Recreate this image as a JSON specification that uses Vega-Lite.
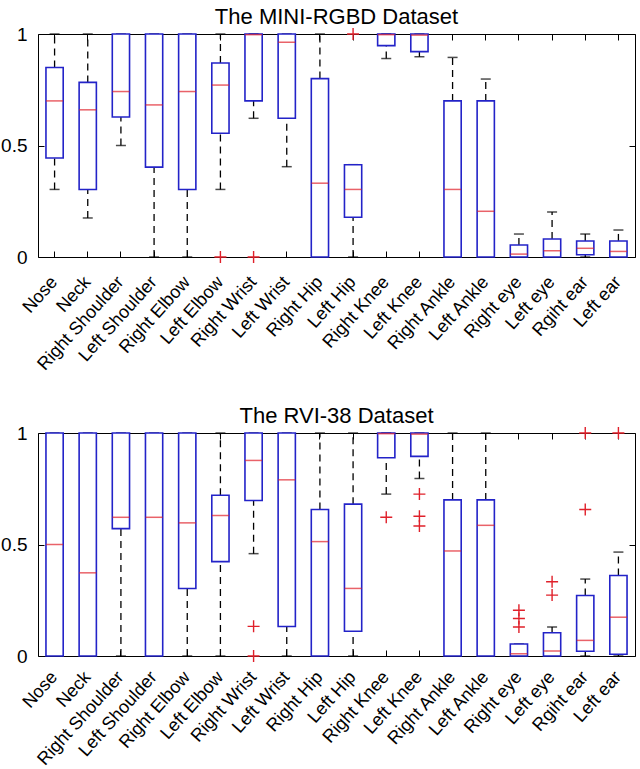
{
  "$schema": "https://vega.github.io/schema/vega-lite/v6.json",
  "background": "white",
  "padding": {"left": 0, "top": 5, "right": 4, "bottom": 0},
  "spacing": 29,
  "config": {
    "font": "Liberation Sans",
    "view": {"stroke": "black", "strokeWidth": 1},
    "title": {"fontSize": 22, "fontWeight": "normal", "color": "black", "font": "Liberation Sans", "offset": -4},
    "axis": {"grid": false, "domain": false, "tickColor": "black", "labelColor": "black", "labelFont": "Liberation Sans"}
  },
  "datasets": {
    "mini": [
      {"joint": "Nose", "lo": 0.303, "q1": 0.444, "med": 0.70, "q3": 0.85, "hi": 1},
      {"joint": "Neck", "lo": 0.175, "q1": 0.303, "med": 0.66, "q3": 0.783, "hi": 1},
      {"joint": "Right Shoulder", "lo": 0.50, "q1": 0.628, "med": 0.742, "q3": 1, "hi": 1},
      {"joint": "Left Shoulder", "lo": 0, "q1": 0.403, "med": 0.682, "q3": 1, "hi": 1},
      {"joint": "Right Elbow", "lo": 0, "q1": 0.303, "med": 0.742, "q3": 1, "hi": 1},
      {"joint": "Left Elbow", "lo": 0.303, "q1": 0.555, "med": 0.771, "q3": 0.87, "hi": 1},
      {"joint": "Right Wrist", "lo": 0.622, "q1": 0.70, "med": 0.997, "q3": 1, "hi": 1},
      {"joint": "Left Wrist", "lo": 0.405, "q1": 0.622, "med": 0.963, "q3": 1, "hi": 1},
      {"joint": "Right Hip", "lo": 0, "q1": 0, "med": 0.331, "q3": 0.80, "hi": 1},
      {"joint": "Left Hip", "lo": 0, "q1": 0.178, "med": 0.303, "q3": 0.414, "hi": 0.414},
      {"joint": "Right Knee", "lo": 0.89, "q1": 0.948, "med": 0.997, "q3": 1, "hi": 1},
      {"joint": "Left Knee", "lo": 0.898, "q1": 0.921, "med": 0.995, "q3": 1, "hi": 1},
      {"joint": "Right Ankle", "lo": 0, "q1": 0, "med": 0.303, "q3": 0.70, "hi": 0.895},
      {"joint": "Left Ankle", "lo": 0, "q1": 0, "med": 0.205, "q3": 0.70, "hi": 0.798},
      {"joint": "Right eye", "lo": 0, "q1": 0, "med": 0.013, "q3": 0.054, "hi": 0.103},
      {"joint": "Left eye", "lo": 0, "q1": 0, "med": 0.028, "q3": 0.081, "hi": 0.202},
      {"joint": "Rgiht ear", "lo": 0, "q1": 0.01, "med": 0.039, "q3": 0.072, "hi": 0.103},
      {"joint": "Left ear", "lo": 0, "q1": 0, "med": 0.025, "q3": 0.072, "hi": 0.121}
    ],
    "mini_out": [
      {"joint": "Left Elbow", "v": 0},
      {"joint": "Right Wrist", "v": 0},
      {"joint": "Left Hip", "v": 1}
    ],
    "rvi": [
      {"joint": "Nose", "lo": 0, "q1": 0, "med": 0.50, "q3": 1, "hi": 1},
      {"joint": "Neck", "lo": 0, "q1": 0, "med": 0.373, "q3": 1, "hi": 1},
      {"joint": "Right Shoulder", "lo": 0, "q1": 0.571, "med": 0.622, "q3": 1, "hi": 1},
      {"joint": "Left Shoulder", "lo": 0, "q1": 0, "med": 0.622, "q3": 1, "hi": 1},
      {"joint": "Right Elbow", "lo": 0, "q1": 0.303, "med": 0.597, "q3": 1, "hi": 1},
      {"joint": "Left Elbow", "lo": 0, "q1": 0.423, "med": 0.63, "q3": 0.721, "hi": 1},
      {"joint": "Right Wrist", "lo": 0.459, "q1": 0.697, "med": 0.877, "q3": 1, "hi": 1},
      {"joint": "Left Wrist", "lo": 0, "q1": 0.132, "med": 0.79, "q3": 1, "hi": 1},
      {"joint": "Right Hip", "lo": 0, "q1": 0, "med": 0.513, "q3": 0.657, "hi": 1},
      {"joint": "Left Hip", "lo": 0, "q1": 0.111, "med": 0.303, "q3": 0.681, "hi": 1},
      {"joint": "Right Knee", "lo": 0.726, "q1": 0.889, "med": 0.997, "q3": 1, "hi": 1},
      {"joint": "Left Knee", "lo": 0.796, "q1": 0.895, "med": 0.995, "q3": 1, "hi": 1},
      {"joint": "Right Ankle", "lo": 0, "q1": 0, "med": 0.471, "q3": 0.70, "hi": 1},
      {"joint": "Left Ankle", "lo": 0, "q1": 0, "med": 0.586, "q3": 0.70, "hi": 1},
      {"joint": "Right eye", "lo": 0, "q1": 0, "med": 0.01, "q3": 0.054, "hi": 0.054},
      {"joint": "Left eye", "lo": 0, "q1": 0, "med": 0.022, "q3": 0.104, "hi": 0.13},
      {"joint": "Rgiht ear", "lo": 0, "q1": 0.021, "med": 0.07, "q3": 0.271, "hi": 0.345},
      {"joint": "Left ear", "lo": 0, "q1": 0.008, "med": 0.174, "q3": 0.361, "hi": 0.466}
    ],
    "rvi_out": [
      {"joint": "Right Wrist", "v": 0.133},
      {"joint": "Right Wrist", "v": 0},
      {"joint": "Right Knee", "v": 0.622},
      {"joint": "Left Knee", "v": 0.726},
      {"joint": "Left Knee", "v": 0.627},
      {"joint": "Left Knee", "v": 0.583},
      {"joint": "Right eye", "v": 0.205},
      {"joint": "Right eye", "v": 0.168},
      {"joint": "Right eye", "v": 0.13},
      {"joint": "Left eye", "v": 0.333},
      {"joint": "Left eye", "v": 0.273},
      {"joint": "Rgiht ear", "v": 1},
      {"joint": "Rgiht ear", "v": 0.657},
      {"joint": "Left ear", "v": 1}
    ]
  },
  "vconcat": [
    {
      "title": {"text": "The MINI-RGBD Dataset"},
      "width": 597,
      "height": 223,
      "data": {"name": "mini"},
      "resolve": {"axis": {"x": "independent", "y": "independent"}},
      "layer": [
        {
          "mark": {"type": "rule", "color": "black", "strokeDash": [7, 5], "strokeWidth": 1.3},
          "encoding": {
            "x": {"field": "joint", "type": "nominal", "sort": null, "title": null,
                  "scale": {"paddingInner": 0, "paddingOuter": 0},
                  "axis": {"orient": "bottom", "labelAngle": -48, "labelFontSize": 18, "tickSize": -6, "labelPadding": 28}},
            "y": {"field": "q3", "type": "quantitative", "title": null,
                  "scale": {"domain": [0, 1], "nice": false},
                  "axis": {"orient": "left", "values": [0, 0.5, 1], "format": "~g", "labelFontSize": 19, "tickSize": -6, "labelPadding": 17}},
            "y2": {"field": "hi"}
          }
        },
        {
          "mark": {"type": "rule", "color": "black", "strokeDash": [7, 5], "strokeWidth": 1.3},
          "encoding": {
            "x": {"field": "joint", "type": "nominal", "sort": null, "axis": {"orient": "top", "labels": false, "tickSize": -6, "title": null}},
            "y": {"field": "lo", "type": "quantitative", "axis": {"orient": "right", "labels": false, "values": [0, 0.5, 1], "tickSize": -6, "title": null}},
            "y2": {"field": "q1"}
          }
        },
        {
          "mark": {"type": "tick", "color": "black", "size": 10, "thickness": 1.5},
          "encoding": {
            "x": {"field": "joint", "type": "nominal", "sort": null, "axis": null},
            "y": {"field": "hi", "type": "quantitative", "axis": null}
          }
        },
        {
          "mark": {"type": "tick", "color": "black", "size": 10, "thickness": 1.5},
          "encoding": {
            "x": {"field": "joint", "type": "nominal", "sort": null, "axis": null},
            "y": {"field": "lo", "type": "quantitative", "axis": null}
          }
        },
        {
          "mark": {"type": "bar", "fill": "white", "stroke": "#2323c8", "strokeWidth": 1.6, "width": {"band": 0.52}},
          "encoding": {
            "x": {"field": "joint", "type": "nominal", "sort": null, "axis": null},
            "y": {"field": "q3", "type": "quantitative", "axis": null},
            "y2": {"field": "q1"}
          }
        },
        {
          "mark": {"type": "tick", "color": "#e0202a", "size": 17, "thickness": 1.5},
          "encoding": {
            "x": {"field": "joint", "type": "nominal", "sort": null, "axis": null},
            "y": {"field": "med", "type": "quantitative", "axis": null}
          }
        },
        {
          "data": {"name": "mini_out"},
          "mark": {"type": "point", "shape": "M-1,0H1M0,-1V1", "filled": false, "stroke": "#e0202a", "strokeWidth": 1.4, "size": 144, "opacity": 1},
          "encoding": {
            "x": {"field": "joint", "type": "nominal", "sort": null, "axis": null},
            "y": {"field": "v", "type": "quantitative", "axis": null}
          }
        }
      ]
    },
    {
      "title": {"text": "The RVI-38 Dataset"},
      "width": 597,
      "height": 223,
      "data": {"name": "rvi"},
      "resolve": {"axis": {"x": "independent", "y": "independent"}},
      "layer": [
        {
          "mark": {"type": "rule", "color": "black", "strokeDash": [7, 5], "strokeWidth": 1.3},
          "encoding": {
            "x": {"field": "joint", "type": "nominal", "sort": null, "title": null,
                  "scale": {"paddingInner": 0, "paddingOuter": 0},
                  "axis": {"orient": "bottom", "labelAngle": -48, "labelFontSize": 18, "tickSize": -6, "labelPadding": 24}},
            "y": {"field": "q3", "type": "quantitative", "title": null,
                  "scale": {"domain": [0, 1], "nice": false},
                  "axis": {"orient": "left", "values": [0, 0.5, 1], "format": "~g", "labelFontSize": 19, "tickSize": -6, "labelPadding": 17}},
            "y2": {"field": "hi"}
          }
        },
        {
          "mark": {"type": "rule", "color": "black", "strokeDash": [7, 5], "strokeWidth": 1.3},
          "encoding": {
            "x": {"field": "joint", "type": "nominal", "sort": null, "axis": {"orient": "top", "labels": false, "tickSize": -6, "title": null}},
            "y": {"field": "lo", "type": "quantitative", "axis": {"orient": "right", "labels": false, "values": [0, 0.5, 1], "tickSize": -6, "title": null}},
            "y2": {"field": "q1"}
          }
        },
        {
          "mark": {"type": "tick", "color": "black", "size": 10, "thickness": 1.5},
          "encoding": {
            "x": {"field": "joint", "type": "nominal", "sort": null, "axis": null},
            "y": {"field": "hi", "type": "quantitative", "axis": null}
          }
        },
        {
          "mark": {"type": "tick", "color": "black", "size": 10, "thickness": 1.5},
          "encoding": {
            "x": {"field": "joint", "type": "nominal", "sort": null, "axis": null},
            "y": {"field": "lo", "type": "quantitative", "axis": null}
          }
        },
        {
          "mark": {"type": "bar", "fill": "white", "stroke": "#2323c8", "strokeWidth": 1.6, "width": {"band": 0.52}},
          "encoding": {
            "x": {"field": "joint", "type": "nominal", "sort": null, "axis": null},
            "y": {"field": "q3", "type": "quantitative", "axis": null},
            "y2": {"field": "q1"}
          }
        },
        {
          "mark": {"type": "tick", "color": "#e0202a", "size": 17, "thickness": 1.5},
          "encoding": {
            "x": {"field": "joint", "type": "nominal", "sort": null, "axis": null},
            "y": {"field": "med", "type": "quantitative", "axis": null}
          }
        },
        {
          "data": {"name": "rvi_out"},
          "mark": {"type": "point", "shape": "M-1,0H1M0,-1V1", "filled": false, "stroke": "#e0202a", "strokeWidth": 1.4, "size": 144, "opacity": 1},
          "encoding": {
            "x": {"field": "joint", "type": "nominal", "sort": null, "axis": null},
            "y": {"field": "v", "type": "quantitative", "axis": null}
          }
        }
      ]
    }
  ]
}
